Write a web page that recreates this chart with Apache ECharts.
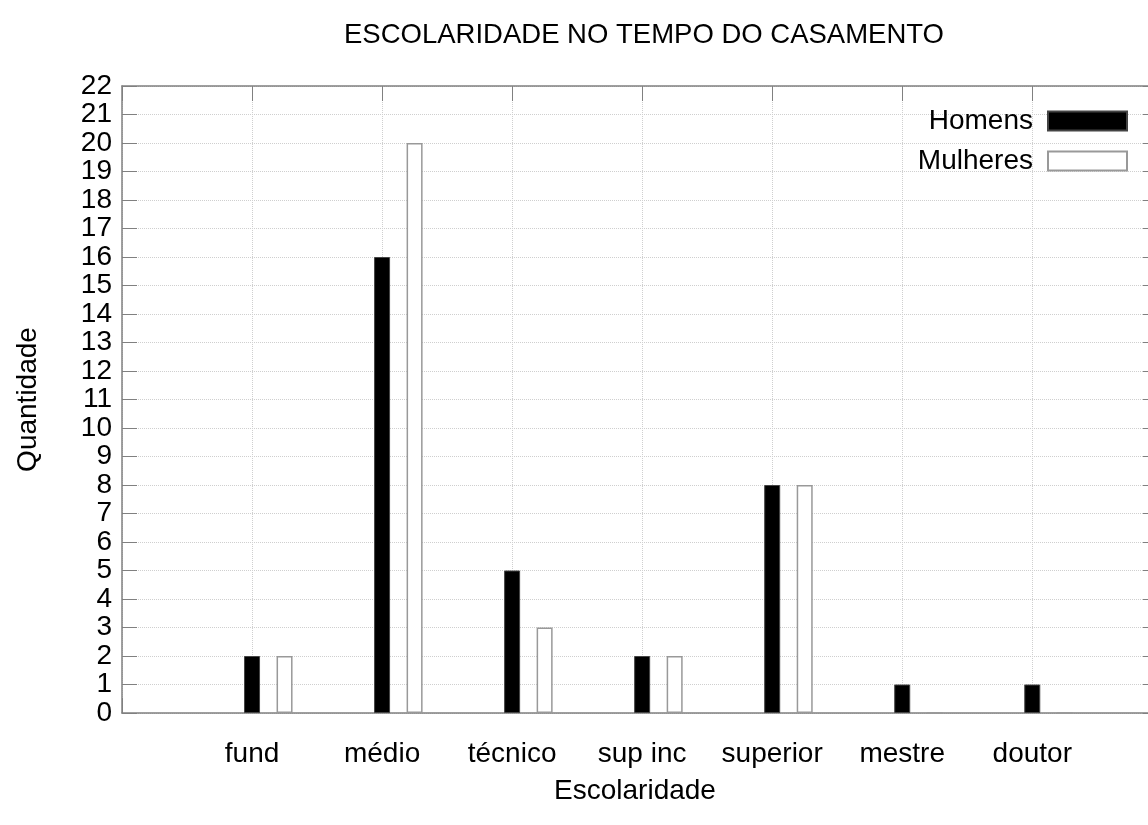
<!DOCTYPE html>
<html>
<head>
<meta charset="utf-8">
<title>Escolaridade no tempo do casamento</title>
<script src="https://cdn.jsdelivr.net/npm/echarts@6/dist/echarts.min.js"></script>
<style>
  html, body { margin: 0; padding: 0; background: #fff; }
  #chart { width: 1148px; height: 825px; }
</style>
</head>
<body>
<div id="chart"></div>
<script>
// dados
const categorias = ['fund', 'médio', 'técnico', 'sup inc', 'superior', 'mestre', 'doutor']
const homens = [2, 16, 5, 2, 8, 1, 1]
const mulheres = [2, 20, 3, 2, 8, 0, 0]
const yMax = 22

const fonte = 'Liberation Sans, Arial, sans-serif'
const eixoCor = '#808080'
const deslocamento = 0.25 // segunda barra do grupo fica um pouco a direita
const xMax = 6.89 // a borda direita do grafico original fica fora da imagem

const chart = echarts.init(document.getElementById('chart'))

chart.setOption({
  animation: false,
  textStyle: { fontFamily: fonte },
  title: {
    text: 'ESCOLARIDADE NO TEMPO DO CASAMENTO',
    left: 339,
    top: 16,
    textStyle: { fontSize: 27.5, fontWeight: 'normal', color: '#000', fontFamily: fonte }
  },
  legend: {
    orient: 'vertical',
    align: 'right',
    right: 15,
    top: 102,
    icon: 'rect',
    itemWidth: 79,
    itemHeight: 19,
    itemGap: 12,
    textStyle: { fontSize: 28, color: '#000', fontFamily: fonte, padding: [0, 10, 0, 0] },
    data: ['Homens', 'Mulheres']
  },
  grid: {
    left: 122,
    top: 86,
    bottom: 112,
    right: 0,
    containLabel: false
  },
  xAxis: [{
    type: 'value',
    min: -1,
    max: xMax,
    interval: 1,
    name: 'Escolaridade',
    nameLocation: 'middle',
    nameGap: 64,
    nameTextStyle: { fontSize: 28, color: '#000', fontFamily: fonte },
    axisLine: { show: true, onZero: false, lineStyle: { color: eixoCor, width: 1.5 } },
    axisTick: { show: true, inside: true, length: 15, lineStyle: { color: eixoCor } },
    axisLabel: {
      fontSize: 28,
      color: '#000',
      margin: 27,
      showMaxLabel: false,
      formatter: function (v) {
        return categorias[v] !== undefined ? categorias[v] : ''
      }
    },
    splitLine: { show: true, lineStyle: { type: 'dotted', color: '#cfcfcf' } }
  }, {
    type: 'value',
    position: 'top',
    min: -1,
    max: xMax,
    interval: 1,
    axisLine: { show: true, onZero: false, lineStyle: { color: eixoCor, width: 1.5 } },
    axisTick: { show: true, inside: true, length: 15, lineStyle: { color: eixoCor } },
    axisLabel: { show: false },
    splitLine: { show: false }
  }],
  yAxis: [{
    type: 'value',
    min: 0,
    max: yMax,
    interval: 1,
    name: 'Quantidade',
    nameLocation: 'middle',
    nameGap: 80,
    nameTextStyle: { fontSize: 28, color: '#000', fontFamily: fonte },
    axisLine: { show: true, onZero: false, lineStyle: { color: eixoCor, width: 1.5 } },
    axisTick: { show: true, inside: true, length: 15, lineStyle: { color: eixoCor } },
    axisLabel: { fontSize: 28, color: '#000', margin: 10 },
    splitLine: { show: true, lineStyle: { type: 'dotted', color: '#cfcfcf' } }
  }, {
    type: 'value',
    position: 'right',
    min: 0,
    max: yMax,
    interval: 1,
    axisLine: { show: false, onZero: false },
    axisTick: { show: true, inside: true, length: 5, lineStyle: { color: eixoCor } },
    axisLabel: { show: false },
    splitLine: { show: false }
  }],
  series: [
    {
      name: 'Homens',
      type: 'bar',
      barWidth: 16,
      barGap: '-100%',
      itemStyle: { color: '#000', borderColor: '#444', borderWidth: 1 },
      data: homens.map((v, i) => [i, v])
    },
    {
      name: 'Mulheres',
      type: 'bar',
      barWidth: 16,
      barGap: '-100%',
      itemStyle: { color: '#fff', borderColor: '#999', borderWidth: 1.5 },
      data: mulheres.map((v, i) => [i + deslocamento, v])
    }
  ]
})
</script>
</body>
</html>
